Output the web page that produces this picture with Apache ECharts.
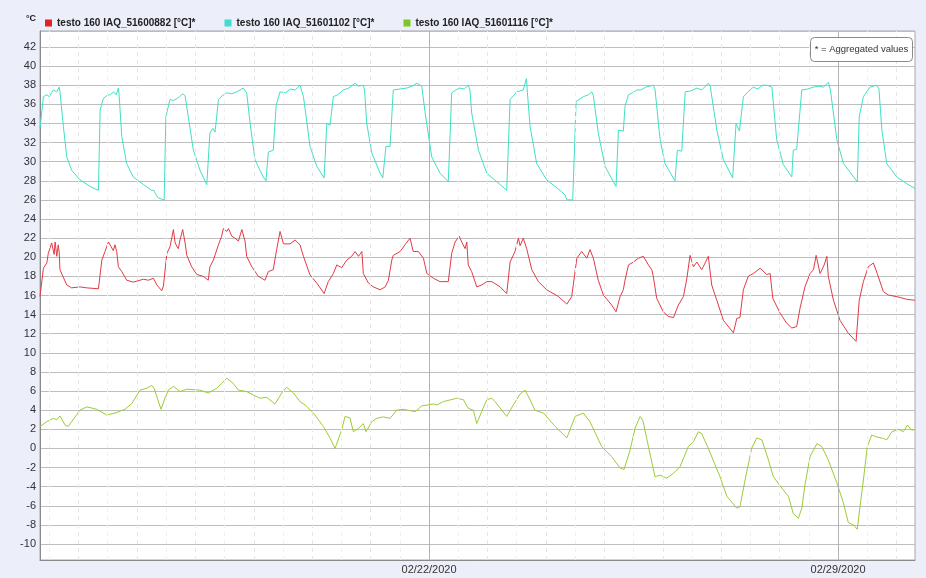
<!DOCTYPE html>
<html>
<head>
<meta charset="utf-8">
<script src="https://cdn.jsdelivr.net/npm/echarts@6/dist/echarts.min.js"></script>
<style>
  html, body { margin: 0; padding: 0; background: #eceef9; }
  #chart { width: 926px; height: 578px; }
</style>
</head>
<body>
<div id="chart"></div>
<script>
// x = hours since 02/15/2020 00:00, y = °C
const startHour = 8.2;
const endHour = 367.6;
const xLabelHours = [168, 336];
const xLabels = ['02/22/2020', '02/29/2020'];

const seriesNames = [
    'testo 160 IAQ_51600882 [°C]*',
    'testo 160 IAQ_51601102 [°C]*',
    'testo 160 IAQ_51601116 [°C]*'
];

const redData = [
    [8.2,15.9],[9.6,18.85],[11.0,19.4],[11.6,20.4],[13.0,21.5],[14.0,20.3],[14.4,21.6],[15.1,20.1],[15.7,21.3],[16.1,20.5],[16.4,18.7],
    [17.1,18.5],[19.2,17.1],[21.2,16.8],[24.6,16.9],[27.4,16.8],[32.2,16.7],[33.6,19.7],[34.9,20.6],[36.3,21.6],[37.0,21.8],
    [38.3,20.7],[39.0,21.3],[39.7,20.6],[40.4,19.0],[41.8,18.5],[43.8,17.6],[46.5,17.4],[50.7,17.7],[52.7,17.6],[54.8,17.8],
    [56.2,17.1],[58.2,16.5],[58.9,17.0],[60.3,20.4],[61.6,21.1],[63.0,22.9],[63.7,21.5],[65.0,20.9],[65.7,21.8],[66.8,22.9],
    [67.8,21.5],[68.5,20.2],[70.5,19.0],[72.6,18.2],[75.3,18.0],[77.3,17.6],[78.0,19.0],[79.4,19.7],[81.5,21.3],[82.8,22.2],
    [83.5,23.0],[84.9,22.7],[85.6,23.0],[87.0,22.2],[88.3,22.0],[89.7,21.7],[91.1,22.9],[92.4,21.7],[93.1,20.1],[95.2,19.0],
    [97.9,18.0],[100.6,17.6],[102.0,18.5],[104.0,18.7],[105.4,20.8],[106.8,22.7],[108.2,21.4],[110.9,21.4],[113.0,21.8],[115.0,21.3],
    [116.4,20.1],[117.1,20.0],[119.1,18.15],[121.9,17.3],[124.9,16.2],[126.6,17.45],[128.7,18.3],[130.1,19.2],[132.1,18.9],[134.2,19.7],
    [136.2,20.1],[137.6,20.6],[139.0,20.1],[140.4,20.6],[141.0,18.3],[143.1,17.3],[145.1,16.9],[147.9,16.6],[150.0,16.9],[151.3,17.6],
    [152.7,19.7],[153.3,20.2],[156.1,20.6],[158.1,21.3],[160.2,22.0],[161.5,20.6],[163.6,20.6],[165.7,19.9],[167.1,18.3],[169.8,17.8],
    [172.5,17.45],[175.9,17.45],[177.3,20.4],[178.7,21.6],[180.4,22.2],[181.4,21.6],[182.8,20.9],[183.5,21.6],[184.1,19.2],[185.5,18.5],
    [187.6,16.9],[189.6,17.1],[191.7,17.45],[193.8,17.45],[197.2,16.9],[199.9,16.2],[201.3,19.5],[203.3,20.6],[204.7,22.0],[205.4,21.2],
    [206.7,22.0],[208.1,20.9],[210.2,18.7],[212.9,17.45],[216.3,16.6],[221.1,15.9],[224.6,15.1],[226.6,15.9],[228.7,19.9],[230.7,20.6],
    [232.8,19.9],[234.1,20.8],[235.5,19.9],[237.5,17.6],[239.6,16.05],[243.0,15.0],[244.8,14.3],[246.5,15.9],[247.8,16.6],[248.5,17.6],
    [249.9,19.2],[251.9,19.5],[254.0,19.9],[256.0,20.1],[258.1,19.2],[259.5,18.7],[260.1,18.0],[261.5,15.7],[264.2,14.3],[266.3,13.8],
    [268.4,13.7],[270.4,15.0],[272.5,15.9],[273.9,17.8],[275.2,20.2],[276.6,19.0],[278.0,19.5],[280.0,18.7],[281.4,19.4],[282.7,20.1],
    [284.1,17.1],[286.2,15.5],[288.9,13.4],[293.0,12.1],[294.4,13.6],[295.7,13.7],[297.1,16.6],[299.1,18.0],[301.2,18.3],[304.0,18.85],
    [306.7,18.2],[308.1,18.3],[309.2,15.7],[312.2,14.15],[314.9,13.1],[317.0,12.6],[319.0,12.75],[320.4,14.7],[322.4,16.9],[324.5,18.3],
    [325.9,18.7],[327.0,20.2],[328.6,18.3],[330.3,19.2],[331.4,20.1],[332.0,18.0],[334.1,15.5],[336.8,13.4],[340.2,12.05],[343.4,11.2],
    [344.7,15.5],[346.4,17.45],[348.4,19.0],[350.5,19.4],[352.1,18.3],[354.6,16.4],[356.7,16.05],[361.5,15.8],[364.2,15.6],[367.6,15.5]
];

const cyanData = [
    [8.2,33.5],[9.6,36.8],[11.0,37.0],[12.0,36.8],[13.7,37.5],[15.0,37.3],[16.1,37.8],[16.4,37.3],[17.8,33.7],[19.2,30.5],[21.2,29.1],
    [24.6,28.1],[28.8,27.4],[32.2,27.0],[32.9,35.4],[34.2,36.6],[35.5,36.9],[37.0,37.0],[38.5,37.3],[39.5,37.0],[40.4,37.7],[40.7,37.0],
    [41.8,32.6],[43.8,29.8],[46.5,28.4],[50.7,27.6],[54.1,27.0],[55.0,27.0],[55.5,26.7],[56.8,26.2],[59.2,26.0],[59.9,34.7],[61.6,36.5],
    [63.0,36.4],[64.4,36.6],[65.5,36.8],[66.8,37.1],[67.8,36.9],[69.1,34.7],[71.2,31.2],[73.9,29.1],[76.7,27.6],[77.3,27.4],[78.0,33.0],
    [79.2,33.5],[80.1,33.1],[81.5,36.5],[83.0,36.9],[84.9,37.2],[87.0,37.1],[89.0,37.3],[91.7,37.7],[92.5,37.6],[93.1,37.2],[94.5,34.0],
    [96.5,30.2],[99.9,28.4],[101.0,28.0],[102.0,31.0],[104.0,31.2],[105.2,35.9],[106.8,37.3],[109.0,37.2],[111.0,37.6],[113.0,37.5],
    [115.0,38.0],[116.4,36.8],[117.1,35.5],[119.1,31.6],[121.9,29.5],[124.9,28.3],[126.0,34.0],[127.3,33.8],[128.7,36.8],[130.5,37.0],
    [132.8,37.5],[135.0,37.7],[137.6,38.2],[139.0,37.9],[141.0,38.0],[141.5,37.5],[142.4,34.0],[144.5,30.9],[147.9,28.8],[149.0,28.3],
    [150.3,31.6],[152.0,31.6],[153.3,37.5],[156.0,37.6],[158.8,37.7],[161.0,37.9],[163.0,38.2],[165.0,37.9],[166.4,35.1],[169.1,30.5],
    [172.5,28.8],[175.9,27.9],[177.3,37.2],[179.0,37.5],[180.7,37.7],[182.5,37.6],[184.1,38.0],[184.8,37.5],[185.5,35.1],[188.3,31.2],
    [191.7,28.8],[197.2,27.6],[199.9,27.0],[201.3,36.5],[204.0,37.3],[206.7,37.5],[208.0,38.7],[208.4,37.2],[209.5,33.7],[212.2,29.8],
    [216.3,28.1],[221.8,27.0],[223.9,26.5],[224.6,26.0],[227.0,26.0],[228.4,36.3],[231.4,36.8],[233.5,37.0],[234.8,37.3],[235.5,36.9],
    [237.5,33.0],[240.3,29.5],[244.8,27.4],[245.8,33.3],[247.8,33.2],[248.5,35.8],[249.9,37.0],[251.5,37.2],[253.3,37.5],[255.0,37.5],
    [257.0,37.8],[260.1,38.0],[260.8,37.6],[262.9,32.3],[264.9,29.8],[269.0,28.0],[270.0,31.2],[271.8,31.1],[273.2,37.3],[275.5,37.4],
    [278.0,37.7],[280.0,37.5],[282.7,38.2],[283.5,37.9],[286.2,33.3],[288.9,30.2],[292.7,28.3],[294.1,34.0],[295.5,33.2],[297.1,36.8],
    [299.0,37.3],[301.2,37.8],[303.0,37.6],[305.0,38.0],[306.7,38.0],[308.8,37.8],[310.8,32.3],[313.5,29.7],[317.0,28.4],[317.6,31.2],
    [319.0,31.3],[321.1,37.5],[323.5,37.6],[325.9,37.8],[328.0,37.9],[330.0,37.8],[332.0,38.3],[332.8,37.6],[335.5,32.3],[338.2,29.8],
    [343.9,27.9],[344.7,34.7],[346.4,36.8],[349.1,37.8],[351.9,38.0],[352.8,37.6],[354.0,33.3],[356.0,29.8],[360.1,28.4],[364.2,27.7],
    [367.6,27.2]
];

const greenData = [
    [8.2,2.3],[11.0,2.8],[13.7,3.15],[15.1,3.0],[16.4,3.4],[18.5,2.45],[19.8,2.3],[21.2,2.8],[24.6,4.0],[27.4,4.35],[31.5,4.1],
    [35.6,3.5],[39.0,3.7],[43.1,4.1],[45.9,4.7],[49.3,6.1],[52.0,6.3],[54.1,6.6],[55.1,6.3],[56.2,5.4],[57.9,4.1],[59.6,5.3],
    [60.9,6.1],[63.0,6.5],[65.7,5.95],[68.5,6.2],[73.9,6.1],[77.3,5.8],[80.8,6.3],[82.8,6.8],[84.9,7.35],[87.6,6.8],[89.7,6.1],
    [93.1,5.95],[95.8,5.6],[98.6,5.25],[101.3,5.35],[104.7,4.65],[107.5,5.8],[109.5,6.4],[112.3,5.8],[115.0,4.9],[117.1,4.55],
    [120.5,3.7],[124.6,2.3],[127.3,1.1],[129.4,0.0],[132.1,1.95],[133.5,3.35],[135.5,3.2],[136.9,1.75],[139.0,2.1],[141.0,2.6],
    [142.1,1.75],[144.5,2.8],[146.5,3.15],[149.2,3.3],[152.0,3.15],[154.7,4.0],[157.4,4.1],[162.3,3.85],[165.0,4.45],[169.8,4.65],
    [171.2,4.55],[173.9,4.9],[179.4,5.25],[182.1,5.1],[184.1,4.2],[186.2,4.0],[187.6,2.6],[189.6,3.85],[191.7,5.1],[193.8,5.25],
    [195.1,4.9],[199.9,3.35],[202.6,4.55],[205.4,5.7],[207.4,6.1],[209.5,5.1],[211.5,4.0],[215.0,3.7],[219.8,2.3],[224.6,1.1],
    [228.0,3.35],[231.4,3.7],[234.1,2.8],[238.9,0.2],[243.0,-0.85],[246.5,-2.05],[248.1,-2.2],[250.6,-0.15],[252.6,2.1],[254.7,3.35],
    [255.8,2.95],[258.1,0.2],[260.8,-2.95],[262.9,-2.8],[265.6,-3.1],[268.4,-2.6],[271.1,-1.9],[274.5,0.2],[276.6,0.7],[278.6,1.75],
    [280.0,1.55],[282.7,0.0],[287.5,-2.95],[290.3,-5.0],[294.4,-6.25],[295.7,-6.1],[297.8,-3.3],[300.5,0.0],[302.6,1.1],[304.7,0.9],
    [307.4,-1.2],[309.4,-2.95],[312.9,-4.15],[315.6,-5.0],[317.6,-6.8],[319.7,-7.3],[321.1,-6.25],[322.4,-3.8],[324.5,-0.85],[327.3,0.5],
    [329.3,0.2],[332.0,-1.2],[335.5,-3.6],[338.2,-5.7],[340.2,-7.75],[342.3,-8.0],[343.9,-8.45],[345.0,-6.1],[346.4,-3.3],[348.0,0.2],
    [349.8,1.4],[351.9,1.2],[354.6,1.05],[356.0,0.9],[358.1,1.75],[360.8,2.0],[362.8,1.75],[364.5,2.45],[366.3,1.9],[367.6,2.0]
];

const chart = echarts.init(document.getElementById('chart'));

// vertical grid lines: every 12 h faint dashed, weekly solid
const vLines = [];
for (let h = 12; h < endHour; h += 12) {
    if (xLabelHours.indexOf(h) >= 0) {
        vLines.push({ xAxis: h, lineStyle: { color: '#b4b4b4', type: 'solid', width: 1 } });
    } else if (h % 24 === 0) {
        vLines.push({ xAxis: h, lineStyle: { color: '#e6e6e6', type: [4, 4], width: 1 } });
    } else {
        vLines.push({ xAxis: h, lineStyle: { color: '#f0f0f0', type: [4, 4], width: 1 } });
    }
}

const lineColors = ['#e23a46', '#40e0c4', '#9ccc35'];
const iconColors = ['#e02424', '#3fdcd0', '#7cc820'];
const datasets = [redData, cyanData, greenData];

const series = [{
    name: 'grid',
    type: 'line',
    data: [],
    silent: true,
    z: 1,
    markLine: {
        silent: true,
        symbol: ['none', 'none'],
        label: { show: false },
        animation: false,
        data: vLines
    }
}];
datasets.forEach((d, i) => {
    series.push({
        name: seriesNames[i],
        type: 'line',
        data: d,
        showSymbol: false,
        z: 2,
        lineStyle: { color: lineColors[i], width: 1 },
        itemStyle: { color: iconColors[i] }
    });
});

chart.setOption({
    backgroundColor: '#eceef9',
    animation: false,
    textStyle: { fontFamily: 'Liberation Sans, Arial, sans-serif' },
    grid: {
        left: 40, top: 31, right: 11, bottom: 18,
        show: true, backgroundColor: '#ffffff', borderColor: '#a8a8a8', borderWidth: 1
    },
    legend: {
        data: seriesNames,
        left: 40, top: 13,
        itemWidth: 7, itemHeight: 7, itemGap: 29,
        icon: 'rect',
        textStyle: { fontSize: 10, fontWeight: 'bold', color: '#222' }
    },
    graphic: [
        { type: 'text', left: 26, top: 14, style: { text: '°C', fontSize: 9, fontWeight: 'bold', fill: '#222', fontFamily: 'Liberation Sans, Arial, sans-serif' } },
        {
            type: 'group', left: 810, top: 37, z: 100, zlevel: 1,
            children: [
                { type: 'rect', z: 100, zlevel: 1, shape: { x: 0, y: 0, width: 102, height: 24, r: 4 }, style: { fill: 'rgba(255,255,255,0.92)', stroke: '#8a8a8a', lineWidth: 1 } },
                { type: 'text', z: 101, zlevel: 1, style: { x: 51, y: 12, text: '* = Aggregated values', fontSize: 9.5, fill: '#333', align: 'center', verticalAlign: 'middle', fontFamily: 'Liberation Sans, Arial, sans-serif' } }
            ]
        }
    ],
    xAxis: {
        type: 'value',
        min: startHour,
        max: endHour,
        axisLine: { show: true, onZero: false, lineStyle: { color: '#8a8a8a' } },
        axisTick: { show: false },
        splitLine: { show: false },
        axisLabel: {
            customValues: xLabelHours,
            margin: 4,
            fontSize: 11,
            color: '#333',
            formatter: v => xLabels[xLabelHours.indexOf(v)] || ''
        }
    },
    yAxis: {
        type: 'value',
        min: -11.67,
        max: 43.67,
        minInterval: 2,
        maxInterval: 2,
        splitNumber: 28,
        axisLine: { show: true, lineStyle: { color: '#8a8a8a' } },
        axisTick: { show: false },
        axisLabel: { fontSize: 11, color: '#333', margin: 4, showMinLabel: false, showMaxLabel: false },
        splitLine: { lineStyle: { color: '#bdbdbd', width: 1 } }
    },
    series: series
});

window.addEventListener('resize', () => chart.resize());
</script>
</body>
</html>
